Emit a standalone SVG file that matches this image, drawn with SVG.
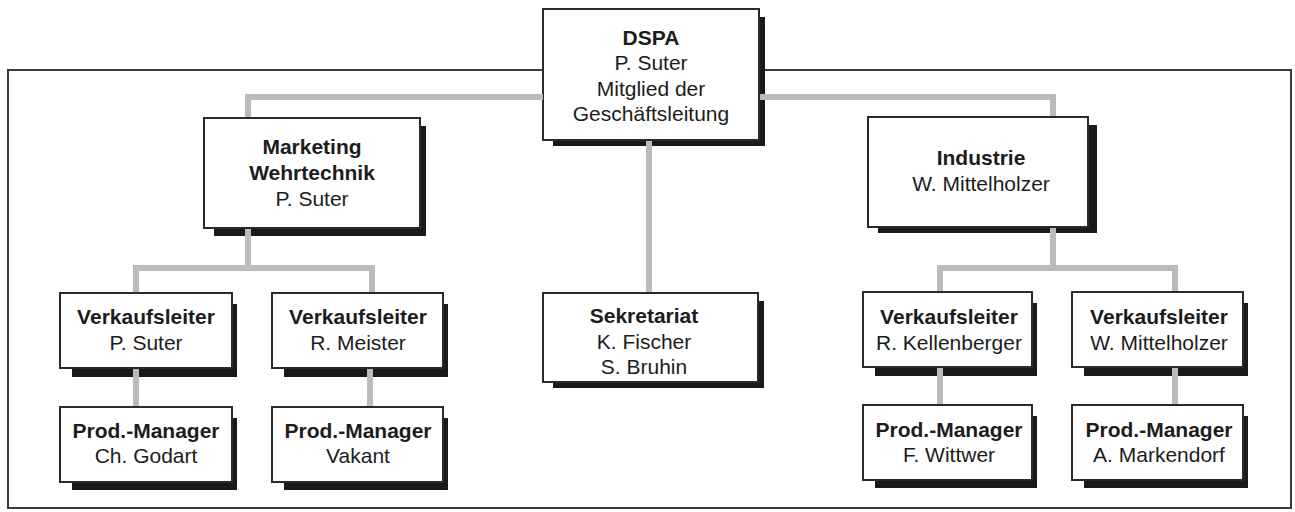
<svg xmlns="http://www.w3.org/2000/svg" width="1295" height="512" viewBox="0 0 1295 512">
<style>
.frame{fill:none;stroke:#3a3a3a;stroke-width:2}
.sh{fill:#1a1a1a}
.bx{fill:#fff;stroke:#2a2a2a;stroke-width:2}
.cn{fill:none;stroke:#b8bcbb;stroke-width:6;stroke-linejoin:miter;stroke-linecap:butt}
text{font-family:"Liberation Sans",Arial,Helvetica,sans-serif;font-size:21px;fill:#1c1c1c;text-anchor:middle}
.b{font-weight:bold}
</style>
<rect class="frame" x="8" y="70" width="1283" height="438"/>
<g id="n-dspa">
<rect class="sh" x="553" y="17" width="212" height="129"/>
<rect class="bx" x="543" y="9" width="216" height="131"/>
<text x="651" y="45" class="b">DSPA</text>
<text x="651" y="70">P. Suter</text>
<text x="651" y="96">Mitglied der</text>
<text x="651" y="121">Geschäftsleitung</text>
</g>
<g id="n-marketing">
<rect class="sh" x="214" y="126" width="212" height="110"/>
<rect class="bx" x="204" y="118" width="216" height="110"/>
<text x="312" y="154" class="b">Marketing</text>
<text x="312" y="180" class="b">Wehrtechnik</text>
<text x="312" y="206">P. Suter</text>
</g>
<g id="n-industrie">
<rect class="sh" x="878" y="125" width="219" height="108"/>
<rect class="bx" x="868" y="117" width="220" height="110"/>
<text x="981" y="165" class="b">Industrie</text>
<text x="981" y="191">W. Mittelholzer</text>
</g>
<g id="n-sekretariat">
<rect class="sh" x="553" y="301" width="211" height="87"/>
<rect class="bx" x="543" y="293" width="215" height="89"/>
<text x="644" y="323" class="b">Sekretariat</text>
<text x="644" y="349">K. Fischer</text>
<text x="644" y="374">S. Bruhin</text>
</g>
<g id="n-vl-suter">
<rect class="sh" x="72" y="304" width="165" height="73"/>
<rect class="bx" x="60" y="293" width="172" height="75"/>
<text x="146" y="324" class="b">Verkaufsleiter</text>
<text x="146" y="350">P. Suter</text>
</g>
<g id="n-vl-meister">
<rect class="sh" x="284" y="304" width="164" height="73"/>
<rect class="bx" x="272" y="293" width="171" height="75"/>
<text x="358" y="324" class="b">Verkaufsleiter</text>
<text x="358" y="350">R. Meister</text>
</g>
<g id="n-pm-godart">
<rect class="sh" x="72" y="418" width="165" height="72"/>
<rect class="bx" x="60" y="407" width="172" height="75"/>
<text x="146" y="438" class="b">Prod.-Manager</text>
<text x="146" y="463">Ch. Godart</text>
</g>
<g id="n-pm-vakant">
<rect class="sh" x="284" y="418" width="164" height="72"/>
<rect class="bx" x="272" y="407" width="171" height="75"/>
<text x="358" y="438" class="b">Prod.-Manager</text>
<text x="358" y="463">Vakant</text>
</g>
<g id="n-vl-kellenberger">
<rect class="sh" x="875" y="303" width="162" height="73"/>
<rect class="bx" x="863" y="292" width="169" height="75"/>
<text x="949" y="324" class="b">Verkaufsleiter</text>
<text x="949" y="350">R. Kellenberger</text>
</g>
<g id="n-vl-mittelholzer">
<rect class="sh" x="1084" y="303" width="164" height="73"/>
<rect class="bx" x="1072" y="292" width="171" height="75"/>
<text x="1159" y="324" class="b">Verkaufsleiter</text>
<text x="1159" y="350">W. Mittelholzer</text>
</g>
<g id="n-pm-wittwer">
<rect class="sh" x="875" y="416" width="162" height="72"/>
<rect class="bx" x="863" y="405" width="169" height="75"/>
<text x="949" y="437" class="b">Prod.-Manager</text>
<text x="949" y="462">F. Wittwer</text>
</g>
<g id="n-pm-markendorf">
<rect class="sh" x="1084" y="416" width="164" height="72"/>
<rect class="bx" x="1072" y="405" width="171" height="75"/>
<text x="1159" y="437" class="b">Prod.-Manager</text>
<text x="1159" y="462">A. Markendorf</text>
</g>
<g id="connectors">
<path class="cn" d="M543,97 H248 V117"/>
<path class="cn" d="M760,97 H1053 V116"/>
<path class="cn" d="M649,141 V292"/>
<path class="cn" d="M248,229 V268"/>
<path class="cn" d="M136,292 V268 H372 V292"/>
<path class="cn" d="M136,369 V406"/>
<path class="cn" d="M370,369 V406"/>
<path class="cn" d="M1053,228 V268"/>
<path class="cn" d="M940,291 V268 H1175 V291"/>
<path class="cn" d="M940,368 V404"/>
<path class="cn" d="M1175,368 V404"/>
</g>
</svg>
